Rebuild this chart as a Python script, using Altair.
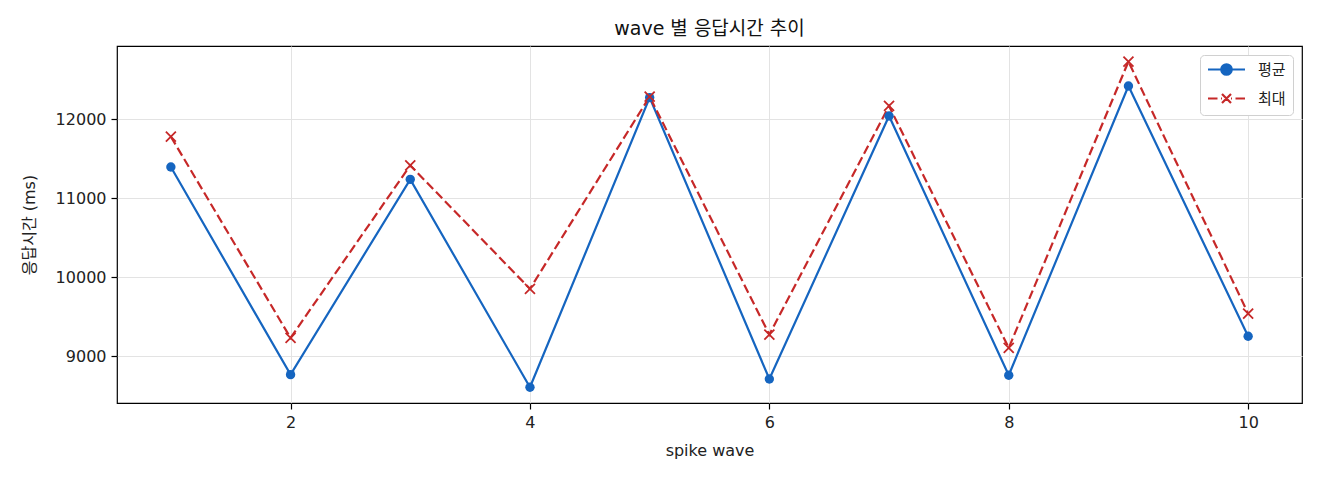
import altair as alt
import pandas as pd

waves = [1, 2, 3, 4, 5, 6, 7, 8, 9, 10]
avg_ms = [11396, 8768, 11240, 8608, 12275, 8713, 12042, 8760, 12422, 9254]
max_ms = [11780, 9233, 11417, 9854, 12287, 9275, 12169, 9106, 12731, 9541]
series_names = ["평균", "최대"]
colors = ["#1565C0", "#C62828"]
x_ticks = [2, 4, 6, 8, 10]
y_ticks = [9000, 10000, 11000, 12000]

FONT = "DejaVu Sans, Noto Sans CJK KR"

avg_df = pd.DataFrame({"wave": waves, "ms": avg_ms, "series": series_names[0]})
max_df = pd.DataFrame({"wave": waves, "ms": max_ms, "series": series_names[1]})

x_enc = alt.X("wave:Q", scale=alt.Scale(domain=[0.55, 10.45], nice=False, zero=False),
              axis=alt.Axis(values=x_ticks, title="spike wave", format="d"))
y_enc = alt.Y("ms:Q", scale=alt.Scale(domain=[8409, 12928], nice=False, zero=False),
              axis=alt.Axis(values=y_ticks, title="응답시간 (ms)", format="d"))

avg_line = alt.Chart(avg_df).mark_line(strokeWidth=2.2, color=colors[0], clip=True).encode(x=x_enc, y=y_enc)
max_line = alt.Chart(max_df).mark_line(strokeWidth=2.2, color=colors[1], strokeDash=[9, 4], clip=True).encode(x=x_enc, y=y_enc)
avg_pts = alt.Chart(avg_df).mark_point(filled=True, size=88, shape="circle", opacity=1,
                                        color=colors[0]).encode(x=x_enc, y=y_enc)
max_pts = alt.Chart(max_df).mark_point(filled=False, size=100, shape="M-1,-1L1,1M-1,1L1,-1",
                                        opacity=1, strokeWidth=1.8, color=colors[1]).encode(x=x_enc, y=y_enc)

# legend-only layer: points placed outside the x domain and clipped away
leg_df = pd.DataFrame({"wave": [-5.0, -5.0], "ms": [10000.0, 10000.0], "series": series_names})
leg_paths = [
    "M-3.7,0H3.7M1.05,0A1.05,1.05,0,1,1,-1.05,0A1.05,1.05,0,1,1,1.05,0Z",
    "M-3.7,0H-1.8M-1.1,0H-0.9M-0.9,-0.9L0.9,0.9M-0.9,0.9L0.9,-0.9M0.9,0H1.1M1.8,0H3.7",
]
leg_props = dict(title=None, orient="top-right", offset=9,
                 symbolSize=100, symbolStrokeWidth=2.2,
                 labelFont=FONT, labelFontSize=15, labelColor="#222",
                 rowPadding=9, symbolOffset=12, labelOffset=24,
                 padding=7, strokeColor="#d0d0d0", fillColor="#ffffff",
                 cornerRadius=4, symbolOpacity=1)
color_scale = alt.Scale(domain=series_names, range=colors)
legend_layer = alt.Chart(leg_df).mark_point(
    filled=True, clip=True, size=100, strokeWidth=2.2, opacity=1
).encode(
    x=x_enc, y=y_enc,
    color=alt.Color("series:N", scale=color_scale, legend=alt.Legend(**leg_props)),
    stroke=alt.Stroke("series:N", scale=color_scale, legend=alt.Legend(**leg_props)),
    shape=alt.Shape("series:N", scale=alt.Scale(domain=series_names, range=leg_paths),
                    legend=alt.Legend(**leg_props)),
)

chart = alt.layer(avg_line, max_line, avg_pts, max_pts, legend_layer).properties(
    width=1185, height=357,
    title=alt.TitleParams("wave 별 응답시간 추이", font=FONT, fontSize=19, fontWeight="normal",
                          color="#111", offset=7),
    padding={"left": 109, "top": 38, "right": 10, "bottom": 69},
    autosize=alt.AutoSizeParams(type="none"),
).configure_view(stroke="#000", strokeWidth=1.2).configure_axis(
    labelFont=FONT, labelFontSize=16, labelColor="#222",
    titleFont=FONT, titleFontSize=16, titleFontWeight="normal", titleColor="#222",
    gridColor="#e3e3e3", gridWidth=1, grid=True,
    tickColor="#000", tickSize=6, tickWidth=1.2, domain=False, labelPadding=5,
).configure_axisX(titlePadding=12).configure_axisY(titlePadding=18)

chart.save("out.html", embed_options={"renderer": "svg", "actions": False})
